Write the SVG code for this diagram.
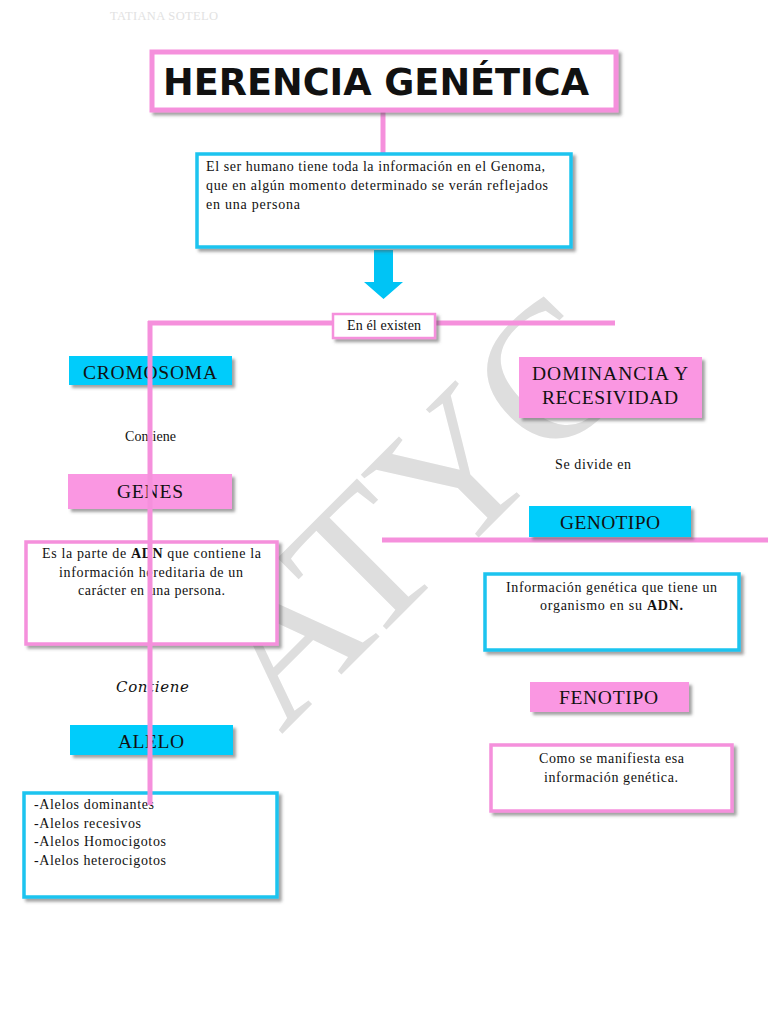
<svg xmlns="http://www.w3.org/2000/svg" width="768" height="1024" viewBox="0 0 768 1024">
<defs>
<filter id="sh" x="-10%" y="-10%" width="130%" height="140%">
<feDropShadow dx="3" dy="3" stdDeviation="1.8" flood-color="#555" flood-opacity="0.55"/>
</filter>
<style>
.t{font-family:"Liberation Serif","Times New Roman",serif;fill:#111}
.s13{font-size:14px}
.s12{font-size:14px}
.h{font-size:19.5px}
.pinkfill{fill:#fa97e2}
.cyanfill{fill:#00ccfb}
.pinkbox{fill:#fff;stroke:#f590dc;stroke-width:3.5}
.cyanbox{fill:#fff;stroke:#1ac4ef;stroke-width:3.5}
.line{stroke:#f590dc;stroke-width:5;fill:none}
</style>
</defs>
<rect width="768" height="1024" fill="#fff"/>
<text x="110" y="20" class="t" textLength="108" style="font-size:12.5px;fill:#e2e2e2">TATIANA SOTELO</text>
<g id="watermark">
<text transform="translate(281,735) rotate(-45)" style="font-family:'Liberation Serif',serif;font-size:195px;fill:#dedede">ATYC</text>
</g>
<g id="connectors">
<line class="line" x1="383" y1="112" x2="383" y2="153"/>
<line class="line" x1="148" y1="323" x2="615" y2="323"/>
<line class="line" x1="382" y1="540" x2="768" y2="540"/>
<polygon points="374,250 393,250 393,282 403,282 383.5,299 364,282 374,282" fill="#00c4f5"/>
</g>
<g id="title">
<rect x="152" y="52" width="464" height="58" fill="#fff" stroke="#f590dc" stroke-width="5" filter="url(#sh)"/>
<text x="376" y="95" text-anchor="middle" textLength="426" lengthAdjust="spacingAndGlyphs" style="font-family:'DejaVu Sans',sans-serif;font-weight:bold;font-size:37px;fill:#111">HERENCIA GENÉTICA</text>
</g>
<g id="genoma">
<rect x="197" y="154" width="374" height="93" class="cyanbox" stroke-width="5" filter="url(#sh)"/>
<text class="t s13" x="206" y="171" textLength="339">El ser humano tiene toda la información en el Genoma,</text>
<text class="t s13" x="206" y="190" textLength="342">que en algún momento determinado se verán reflejados</text>
<text class="t s13" x="206" y="209" textLength="94">en una persona</text>
</g>
<g id="existen">
<rect x="333" y="314" width="102" height="24" fill="#fff" stroke="#f590dc" stroke-width="2.5" filter="url(#sh)"/>
<text class="t s12" x="347" y="330" textLength="74">En él existen</text>
</g>
<g id="cromosoma">
<rect x="69" y="356" width="163" height="29" class="cyanfill" filter="url(#sh)"/>
<text class="t h" x="83" y="379" textLength="134">CROMOSOMA</text>
</g>
<text class="t s12" x="125" y="441" textLength="51">Contiene</text>
<g id="genes">
<rect x="68" y="474" width="164" height="35" class="pinkfill" filter="url(#sh)"/>
<text class="t h" x="117" y="498" textLength="66">GENES</text>
</g>
<g id="genes-desc">
<rect x="26" y="542" width="251" height="102" class="pinkbox" filter="url(#sh)"/>
<text class="t s13" x="42" y="558" textLength="219">Es la parte de <tspan font-weight="bold">ADN</tspan> que contiene la</text>
<text class="t s13" x="59" y="577" textLength="184">información hereditaria de un</text>
<text class="t s13" x="78" y="595" textLength="147">carácter en una persona.</text>
</g>
<text x="116" y="692" textLength="73" style="font-family:'DejaVu Serif',serif;font-style:italic;font-size:15px;fill:#111">Contiene</text>
<g id="alelo">
<rect x="70" y="725" width="163" height="30" class="cyanfill" filter="url(#sh)"/>
<text class="t h" x="118" y="748" textLength="66">ALELO</text>
</g>
<g id="alelos-list">
<rect x="24" y="793" width="253" height="104" class="cyanbox" filter="url(#sh)"/>
<text class="t s13" x="34" y="809" textLength="120">-Alelos dominantes</text>
<text class="t s13" x="34" y="828" textLength="107">-Alelos recesivos</text>
<text class="t s13" x="34" y="846" textLength="132">-Alelos Homocigotos</text>
<text class="t s13" x="34" y="865" textLength="132">-Alelos heterocigotos</text>
</g>
<line class="line" x1="150" y1="321" x2="150" y2="805"/>
<g id="dominancia">
<rect x="519" y="357" width="183" height="61" class="pinkfill" filter="url(#sh)"/>
<text class="t h" x="532" y="380" textLength="156">DOMINANCIA Y</text>
<text class="t h" x="542" y="404" textLength="136">RECESIVIDAD</text>
</g>
<text class="t s12" x="555" y="469" textLength="76">Se divide en</text>
<g id="genotipo">
<rect x="529" y="506" width="162" height="31" class="cyanfill" filter="url(#sh)"/>
<text class="t h" x="560" y="529" textLength="100">GENOTIPO</text>
</g>
<g id="genotipo-desc">
<rect x="485" y="574" width="254" height="76" class="cyanbox" filter="url(#sh)"/>
<text class="t s13" x="506" y="592" textLength="211">Información genética que tiene un</text>
<text class="t s13" x="540" y="610" textLength="143">organismo en su <tspan font-weight="bold">ADN.</tspan></text>
</g>
<g id="fenotipo">
<rect x="530" y="682" width="159" height="30" class="pinkfill" filter="url(#sh)"/>
<text class="t h" x="559" y="704" textLength="99">FENOTIPO</text>
</g>
<g id="fenotipo-desc">
<rect x="491" y="745" width="241" height="66" class="pinkbox" filter="url(#sh)"/>
<text class="t s13" x="539" y="763" textLength="145">Como se manifiesta esa</text>
<text class="t s13" x="544" y="782" textLength="134">información genética.</text>
</g>
</svg>
